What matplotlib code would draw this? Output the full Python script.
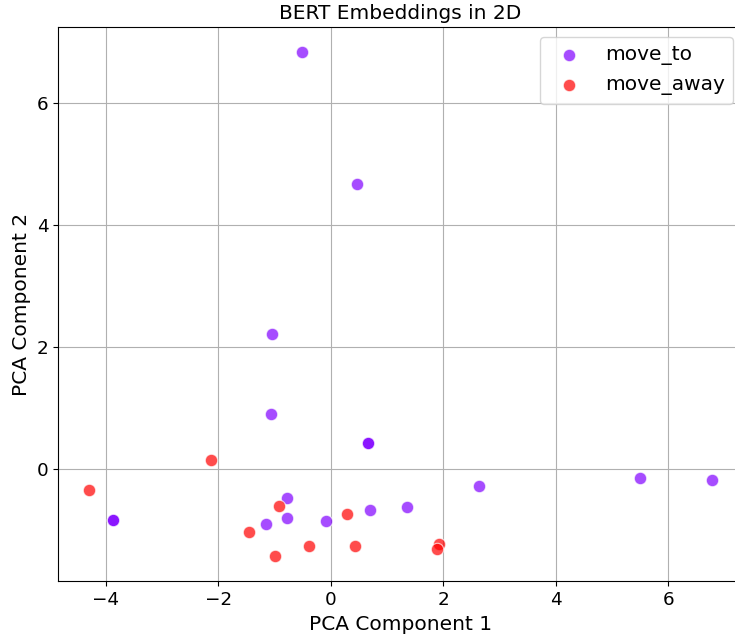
import matplotlib
matplotlib.use("Agg")
import matplotlib.pyplot as plt
from matplotlib import cm

labels = ["move_to", "move_away"]

move_to_x = [-0.52, 0.46, -1.05, -1.07, 0.66, 0.66, -3.87, -3.87, -0.78, -0.77,
             -1.15, -0.09, 0.69, 1.35, 2.64, 5.49, 6.77]
move_to_y = [6.83, 4.68, 2.22, 0.91, 0.43, 0.43, -0.83, -0.83, -0.46, -0.80,
             -0.90, -0.84, -0.67, -0.62, -0.27, -0.14, -0.18]

move_away_x = [-4.29, -2.13, -0.92, -1.46, 0.29, -0.38, -1.00, 0.43, 1.92, 1.88]
move_away_y = [-0.33, 0.15, -0.60, -1.02, -0.73, -1.25, -1.42, -1.25, -1.22, -1.31]

colors = [cm.rainbow(0.0), cm.rainbow(1.0)]

fig = plt.figure(figsize=(7.35, 6.35), dpi=100)
ax = fig.add_axes([58.3 / 735, (635 - 581.3) / 635, (742.8 - 58.3) / 735, (581.3 - 27.3) / 635])

ax.scatter(move_to_x, move_to_y, s=80, color=colors[0], alpha=0.7,
           edgecolors="white", linewidths=0.8, label=labels[0], zorder=3)
ax.scatter(move_away_x, move_away_y, s=80, color=colors[1], alpha=0.7,
           edgecolors="white", linewidths=0.8, label=labels[1], zorder=3)

ax.set_title("BERT Embeddings in 2D", fontsize=14.5)
ax.set_xlabel("PCA Component 1", fontsize=14.5)
ax.set_ylabel("PCA Component 2", fontsize=14.5)
ax.tick_params(labelsize=13.2)
ax.set_xticks([-4, -2, 0, 2, 4, 6])
ax.set_yticks([0, 2, 4, 6])
ax.grid(True, color="#b0b0b0", linewidth=0.8)
ax.set_axisbelow(True)
ax.legend(loc="upper right", fontsize=14.5)

fig.savefig("out.png", dpi=100)
